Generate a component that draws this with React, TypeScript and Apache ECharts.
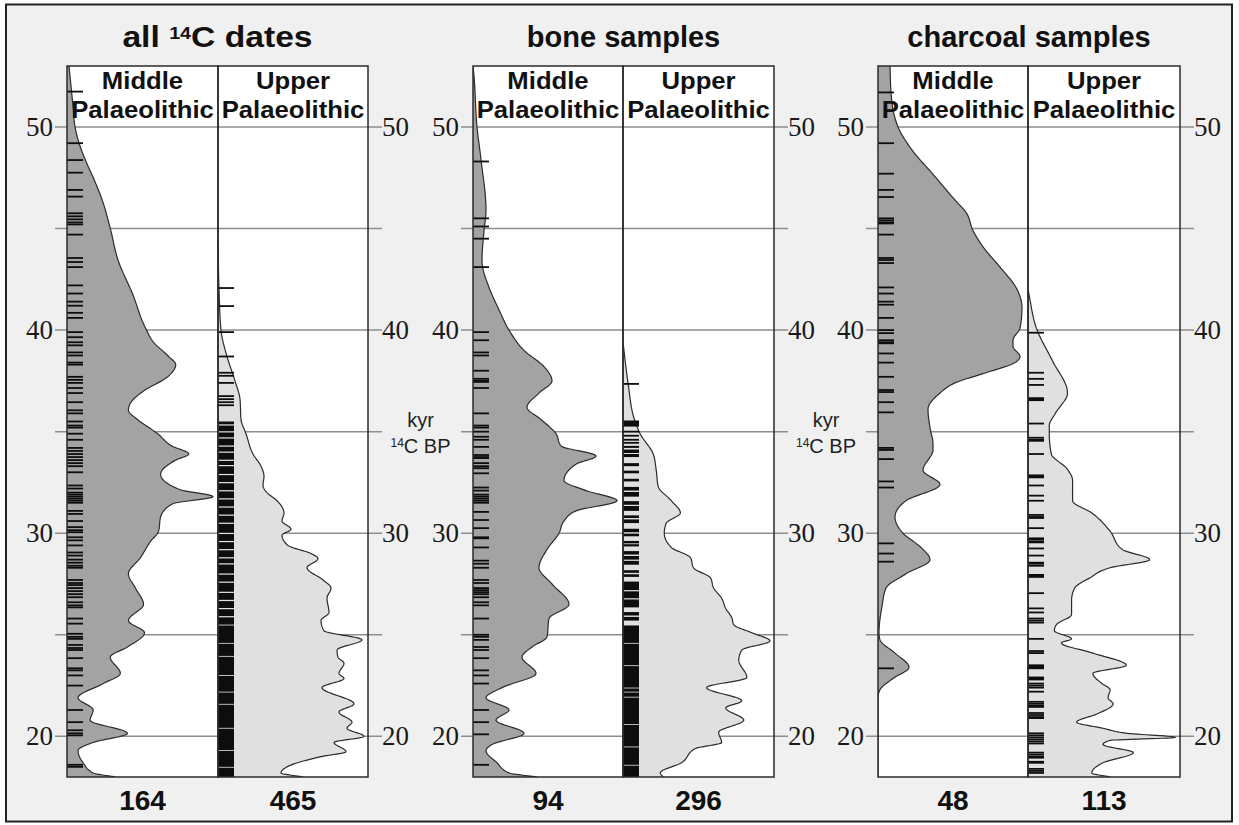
import React, { useEffect, useRef } from "react";
import * as echarts from "echarts";

// ---------- axis / scale ----------
const Y_MIN = 18;
const Y_MAX = 53;
const X_MAX = 150;
const gridLineValues = [20, 25, 30, 35, 40, 45, 50];
const axisLabelValues = [20, 30, 40, 50];

// ---------- texts ----------
const panelTitles = ["{t|all }{s|14}{t|C dates}", "{t|bone samples}", "{t|charcoal samples}"];
const titleStretch = [1.16, 1, 1];
const subHeaders = ["Middle\nPalaeolithic", "Upper\nPalaeolithic"];
const sampleCounts = [164, 465, 94, 296, 48, 113];
const unitLines = ["{n|kyr}", "{s|14}{n|C BP}"];

// ---------- density curves: [kyr 14C BP, relative density] ----------
const allMPCurve = [[53.0,2],[52.0,4],[51.0,6],[50.0,8],[49.2,12],[48.4,18],[47.4,27],[46.4,35],[45.0,43],[43.4,51],[41.8,65],[40.1,78],[39.4,86],[38.7,101],[38.3,108],[37.7,100],[37.0,76],[36.4,63],[36.05,61],[35.6,70],[34.9,90],[34.3,104],[33.9,121],[33.6,108],[32.9,93],[32.15,112],[31.8,145],[31.45,105],[30.8,93],[30.1,91],[29.6,83],[28.8,73],[28.0,61],[27.3,68],[26.5,76],[25.7,61],[25.1,77],[24.4,60],[23.9,43],[23.1,53],[22.6,36],[21.9,11],[21.3,26],[20.8,23],[20.15,60],[19.7,26],[19.3,11],[18.7,16],[18.2,26],[18.0,48]];
const allUPCurve = [[44.5,0],[42.0,1],[40.0,3],[38.7,9],[37.5,17],[36.6,22],[35.6,23],[34.9,28],[33.9,35],[33.3,43],[32.8,46],[32.35,45],[32.0,49],[31.6,59],[31.0,66],[30.6,64],[30.2,73],[29.9,64],[29.4,70],[29.0,93],[28.75,100],[28.3,89],[27.7,105],[27.3,113],[26.8,109],[26.1,111],[25.7,103],[25.2,106],[24.75,144],[24.25,119],[23.9,120],[23.6,126],[23.1,121],[22.85,126],[22.4,104],[21.6,136],[21.2,121],[20.7,134],[20.4,129],[20.0,146],[19.7,116],[19.25,128],[19.0,103],[18.5,69],[18.2,63],[18.0,85]];
const boneMPCurve = [[53.0,0],[52.5,1],[50.0,4],[48.4,8],[45.9,13],[44.9,11],[43.4,9],[42.1,16],[41.0,26],[40.0,36],[39.0,51],[38.2,71],[37.5,79],[36.9,66],[36.2,54],[35.6,68],[34.9,83],[34.3,88],[33.8,123],[33.4,103],[32.6,91],[32.1,113],[31.6,144],[31.1,103],[30.6,91],[30.0,86],[29.2,74],[28.3,66],[27.5,79],[26.5,96],[25.8,76],[24.9,74],[24.4,59],[23.9,49],[23.1,63],[22.4,29],[21.9,13],[21.3,36],[20.8,23],[20.15,51],[19.6,19],[19.3,13],[18.7,24],[18.2,36],[18.0,64]];
const boneUPCurve = [[39.4,0],[37.4,5],[35.5,12],[34.9,17],[33.9,30],[33.1,33],[32.3,35],[31.6,48],[31.0,57],[30.5,43],[30.0,41],[29.3,48],[28.8,67],[28.3,70],[27.8,87],[27.3,90],[26.8,98],[26.3,102],[25.85,108],[25.5,110],[25.1,128],[24.7,146],[24.25,118],[23.75,115],[22.9,123],[22.4,83],[21.75,118],[21.4,102],[20.8,120],[20.2,95],[19.7,98],[19.4,72],[18.7,58],[18.2,37],[18.0,40]];
const charMPCurve = [[53.0,12],[51.7,13],[50.0,20],[49.0,32],[47.5,58],[46.4,77],[45.8,88],[44.9,95],[44.1,105],[43.1,122],[42.1,138],[41.1,144],[40.1,142],[39.5,135],[39.2,135],[38.7,142],[38.4,137],[37.9,108],[37.4,77],[36.9,62],[36.1,50],[35.2,52],[34.4,55],[34.1,55],[33.1,45],[32.4,62],[31.6,28],[30.8,17],[30.0,25],[29.3,43],[28.7,52],[28.0,28],[27.3,8],[26.4,4],[25.1,1],[24.75,2],[24.1,17],[23.4,31],[22.85,15],[22.3,2],[21.9,0],[18.0,0]];
const charUPCurve = [[42.0,0],[40.0,9],[38.5,24],[36.9,39],[35.9,27],[35.3,21],[34.9,21],[33.9,23],[33.2,38],[32.6,44],[31.6,44],[31.0,63],[30.1,81],[29.2,93],[28.7,120],[28.3,81],[27.8,61],[27.3,46],[26.7,43],[26.0,43],[25.5,28],[25.2,26],[24.8,43],[24.6,33],[24.1,64],[23.5,97],[23.1,64],[22.6,73],[22.3,81],[21.9,79],[21.6,84],[21.1,68],[20.7,48],[20.4,74],[20.15,98],[19.95,145],[19.8,81],[19.6,74],[19.2,104],[18.7,74],[18.2,63],[18.0,81]];

// ---------- individual dates (rug ticks), kyr 14C BP ----------
const allMPDates = [51.74,49.2,48.37,47.75,46.9,46.57,45.75,45.6,45.45,45.3,45.2,44.7,43.55,43.35,43.1,42.2,41.8,41.4,41.2,40.85,40.6,39.9,39.65,39.4,39.25,38.9,38.75,38.4,38.3,37.7,37.55,37.4,37.15,36.9,36.45,36.05,35.9,35.5,35.3,35.2,34.9,34.6,34.2,34.05,33.9,33.75,33.6,33.45,33.3,33.0,32.35,32.2,32.0,31.9,31.8,31.7,31.6,31.5,31.1,30.95,30.6,30.3,30.15,30.05,29.8,29.65,29.4,29.05,28.9,28.7,28.55,28.4,28.3,27.7,27.55,27.45,27.3,27.15,27.0,26.85,26.6,26.45,26.35,25.8,25.55,25.05,24.9,24.8,24.5,24.35,24.25,23.85,23.35,23.25,23.0,22.5,21.3,20.7,20.3,20.15,20.05,18.6,18.5];
const allUPDates = [42.07,41.18,39.9,38.7,37.9,37.75,37.4,36.75,36.6,36.45,36.3];
// runs of overlapping dates that print as solid black: [from, to]
const allUPBands = [[35.5,35.36],[35.3,35.02],[34.96,34.72],[34.66,34.32],[34.26,34.02],[33.96,33.62],[33.56,33.36],[33.3,32.92],[32.86,32.52],[32.46,32.12],[32.06,31.72],[31.66,31.32],[31.26,30.92],[30.86,30.52],[30.46,30.02],[29.96,29.62],[29.56,29.22],[29.16,28.82],[28.76,28.52],[28.46,28.02],[27.96,27.62],[27.56,27.12],[27.06,26.72],[26.66,26.32],[26.26,25.92],[25.86,25.5],[25.46,24.6],[24.56,23.96],[23.92,23.02],[22.98,22.2],[22.16,21.6],[21.56,20.42],[20.38,19.32],[19.28,18.5],[18.46,18.0]];
const boneMPDates = [48.3,45.5,45.1,44.5,43.1,39.9,39.5,38.9,38.75,38.0,37.6,37.5,37.45,37.15,35.9,35.3,35.2,35.0,34.75,34.6,34.25,33.85,33.75,33.7,33.45,33.3,33.2,32.95,32.25,32.1,31.9,31.8,31.7,31.6,31.5,31.05,30.65,30.25,29.8,29.75,29.3,28.65,28.5,28.3,27.7,27.55,27.3,27.2,27.1,27.0,26.85,26.6,26.45,25.8,25.0,24.9,24.75,24.4,24.25,23.85,23.25,23.0,22.6,21.3,20.7,20.1,18.6];
const boneUPDates = [37.35,35.0,34.8,34.6,34.45];
const boneUPBands = [[35.55,35.25],[34.3,34.2],[34.12,33.95],[33.9,33.75],[33.45,33.3],[33.08,32.95],[32.68,32.55],[32.28,32.1],[32.03,31.8],[31.58,31.4],[31.34,31.1],[30.88,30.75],[30.68,30.5],[30.22,30.05],[29.98,29.85],[29.62,29.5],[29.46,29.35],[29.12,28.95],[28.88,28.7],[28.64,28.45],[28.18,28.05],[27.98,27.85],[27.62,27.2],[27.14,26.8],[26.74,26.35],[26.12,25.95],[25.88,25.7],[25.46,24.6],[24.56,23.5],[23.46,22.4],[22.36,22.2],[22.16,21.95],[21.91,20.6],[20.56,19.5],[19.46,18.6],[18.56,18.0]];
const charMPDates = [51.7,49.2,47.7,46.9,46.55,45.5,45.4,45.3,45.25,44.7,43.55,43.45,43.3,42.1,41.8,41.4,41.25,40.6,40.0,39.85,39.5,39.4,39.35,38.85,38.4,37.7,37.05,36.95,36.45,35.95,34.2,34.1,33.65,32.55,32.25,29.5,29.0,28.6,23.35];
const charUPDates = [39.87,37.9,37.6,37.3,36.65,36.6,36.55,35.4,34.7,34.6,34.55,33.9,32.85,32.8,32.75,32.35,31.85,31.6,30.9,30.8,30.75,30.25,29.75,29.7,29.6,29.55,29.25,28.9,28.55,28.5,28.4,27.95,27.9,27.85,27.05,26.3,26.1,25.8,25.7,25.6,24.8,24.2,24.1,23.5,23.45,23.4,23.35,22.9,22.85,22.8,22.6,22.5,22.4,22.2,21.7,21.6,21.5,21.45,21.15,21.05,20.95,20.9,20.15,20.05,19.95,19.85,19.75,19.65,19.2,19.1,19.0,18.95,18.75,18.7,18.4,18.3,18.2];

// ---------- layout & style ----------
const PANELS = [
  { left: 67, mid: 218, right: 368 },
  { left: 473, mid: 623, right: 774 },
  { left: 878, mid: 1028, right: 1180 },
];
const TOP = 66;
const BOTTOM = 777;
const MP_FILL = "#a3a3a3";
const UP_FILL = "#e0e0e0";
const LINE_COLOR = "#2b2b2b";
const GRID_COLOR = "#8e8e8e";
const SANS = "Liberation Sans, Arial, sans-serif";
const SERIF = "Liberation Serif, Times New Roman, serif";
const RUG_LEN = 16;

const subpanels = [
  { curve: allMPCurve, dates: allMPDates, bands: [] as number[][], fill: MP_FILL, mp: true },
  { curve: allUPCurve, dates: allUPDates, bands: allUPBands, fill: UP_FILL, mp: false },
  { curve: boneMPCurve, dates: boneMPDates, bands: [] as number[][], fill: MP_FILL, mp: true },
  { curve: boneUPCurve, dates: boneUPDates, bands: boneUPBands, fill: UP_FILL, mp: false },
  { curve: charMPCurve, dates: charMPDates, bands: [] as number[][], fill: MP_FILL, mp: true },
  { curve: charUPCurve, dates: charUPDates, bands: [] as number[][], fill: UP_FILL, mp: false },
];

// monotone cubic (in kyr) rendering of the density outline
function smoothOutline(pts: number[][]): number[][] {
  const p = pts.slice().sort((a, b) => a[0] - b[0]);
  const n = p.length;
  const h: number[] = [];
  const d: number[] = [];
  for (let i = 0; i < n - 1; i++) {
    h.push(p[i + 1][0] - p[i][0]);
    d.push((p[i + 1][1] - p[i][1]) / h[i]);
  }
  const m = new Array(n).fill(0);
  m[0] = d[0];
  m[n - 1] = d[n - 2];
  for (let i = 1; i < n - 1; i++) {
    if (d[i - 1] * d[i] <= 0) m[i] = 0;
    else {
      const q = (d[i - 1] * h[i] + d[i] * h[i - 1]) / (h[i - 1] + h[i]);
      m[i] = 2 * Math.sign(d[i]) * Math.min(Math.abs(d[i - 1]), Math.abs(d[i]), 0.5 * Math.abs(q));
    }
  }
  const out: number[][] = [];
  const steps = 14;
  for (let i = 0; i < n - 1; i++) {
    for (let s = 0; s < steps; s++) {
      const t = s / steps;
      const t2 = t * t, t3 = t2 * t;
      const y = p[i][0] + t * h[i];
      const x =
        (2 * t3 - 3 * t2 + 1) * p[i][1] +
        (t3 - 2 * t2 + t) * h[i] * m[i] +
        (-2 * t3 + 3 * t2) * p[i + 1][1] +
        (t3 - t2) * h[i] * m[i + 1];
      out.push([Math.max(0, x), y]);
    }
  }
  out.push([p[n - 1][1], p[n - 1][0]]);
  return out;
}

function buildOption(): any {
  const grids: any[] = [];
  const xAxes: any[] = [];
  const yAxes: any[] = [];
  const series: any[] = [];

  subpanels.forEach((sp, i) => {
    const pan = PANELS[Math.floor(i / 2)];
    const left = sp.mp ? pan.left : pan.mid;
    const width = sp.mp ? pan.mid - pan.left : pan.right - pan.mid;
    grids.push({
      left,
      top: TOP,
      width,
      height: BOTTOM - TOP,
      show: true,
      backgroundColor: "#ffffff",
      borderWidth: 0,
    });
    xAxes.push({ type: "value", gridIndex: i, min: 0, max: X_MAX, show: false });
    yAxes.push({
      type: "value",
      gridIndex: i,
      min: Y_MIN,
      max: Y_MAX,
      position: sp.mp ? "left" : "right",
      axisLine: { show: false },
      axisTick: { show: false },
      splitLine: { show: false },
      axisLabel: {
        customValues: axisLabelValues,
        formatter: (v: number) => (axisLabelValues.indexOf(v) >= 0 ? String(v) : ""),
        fontFamily: SERIF,
        fontSize: 27,
        color: "#1a1a1a",
        margin: 14,
      },
    });

    // horizontal grid lines with outer ticks
    series.push({
      type: "custom",
      xAxisIndex: i,
      yAxisIndex: i,
      z: 1,
      silent: true,
      data: gridLineValues.map((v) => [0, v]),
      encode: { x: 0, y: 1 },
      renderItem: (params: any, api: any) => {
        const v = api.value(1);
        const a = api.coord([0, v]);
        const b = api.coord([X_MAX, v]);
        const x1 = sp.mp ? a[0] - 12 : a[0];
        const x2 = sp.mp ? b[0] : b[0] + 14;
        return {
          type: "line",
          shape: { x1, y1: a[1], x2, y2: a[1] },
          style: { stroke: GRID_COLOR, lineWidth: 1.5 },
        };
      },
    });

    // density curve
    const curve = sp.curve;
    series.push({
      type: "custom",
      xAxisIndex: i,
      yAxisIndex: i,
      z: 2,
      clip: true,
      silent: true,
      data: curve.map((c) => [c[1], c[0]]),
      encode: { x: 0, y: 1 },
      renderItem: (params: any, api: any) => {
        if (params.dataIndex !== 0) return null;
        const samples = smoothOutline(curve);
        const line = samples.map((s) => api.coord([s[0], s[1]]));
        const first = samples[0];
        const last = samples[samples.length - 1];
        const poly = [api.coord([0, first[1]])].concat(line, [api.coord([0, last[1]])]);
        return {
          type: "group",
          children: [
            { type: "polygon", shape: { points: poly }, style: { fill: sp.fill, stroke: "none" } },
            { type: "polyline", shape: { points: line }, style: { fill: "none", stroke: LINE_COLOR, lineWidth: 1.2 } },
          ],
        };
      },
    });

    // rug ticks
    series.push({
      type: "custom",
      xAxisIndex: i,
      yAxisIndex: i,
      z: 3,
      silent: true,
      data: sp.dates.map((dte) => [0, dte]),
      encode: { x: 0, y: 1 },
      renderItem: (params: any, api: any) => {
        const a = api.coord([0, api.value(1)]);
        return {
          type: "line",
          shape: { x1: a[0], y1: a[1], x2: a[0] + RUG_LEN, y2: a[1] },
          style: { stroke: "#0d0d0d", lineWidth: 1.8 },
        };
      },
    });

    if (sp.bands.length) {
      series.push({
        type: "custom",
        xAxisIndex: i,
        yAxisIndex: i,
        z: 3,
        silent: true,
        data: sp.bands.map((b) => [0, b[0], b[1]]),
        encode: { x: 0, y: [1, 2] },
        renderItem: (params: any, api: any) => {
          const a = api.coord([0, api.value(1)]);
          const b = api.coord([0, api.value(2)]);
          return {
            type: "rect",
            shape: { x: a[0], y: a[1], width: RUG_LEN, height: b[1] - a[1] },
            style: { fill: "#0d0d0d" },
          };
        },
      });
    }

    // panel border
    series.push({
      type: "custom",
      xAxisIndex: i,
      yAxisIndex: i,
      z: 5,
      silent: true,
      data: [[0, Y_MAX]],
      encode: { x: 0, y: 1 },
      renderItem: (params: any, api: any) => {
        const a = api.coord([0, Y_MAX]);
        const b = api.coord([X_MAX, Y_MIN]);
        return {
          type: "rect",
          shape: { x: a[0], y: a[1], width: b[0] - a[0], height: b[1] - a[1] },
          style: { fill: "none", stroke: LINE_COLOR, lineWidth: 1.5 },
        };
      },
    });
  });

  const graphic: any[] = [
    {
      type: "rect",
      z: -10,
      silent: true,
      shape: { x: 6, y: 4.5, width: 1226, height: 817 },
      style: { fill: "#f0f0f0", stroke: "#222", lineWidth: 2 },
    },
  ];

  PANELS.forEach((pan, k) => {
    graphic.push({
      type: "text",
      z: 50,
      silent: true,
      x: (pan.left + pan.right) / 2,
      y: 37,
      scaleX: titleStretch[k],
      style: {
        text: panelTitles[k],
        x: 0,
        y: 0,
        align: "center",
        verticalAlign: "middle",
        rich: {
          t: { fontFamily: SANS, fontWeight: "bold", fontSize: 29, lineHeight: 26, fill: "#111" },
          s: { fontFamily: SANS, fontWeight: "bold", fontSize: 17, lineHeight: 17, verticalAlign: "top", fill: "#111" },
        },
      },
    });
    [0, 1].forEach((j) => {
      const cx = j === 0 ? (pan.left + pan.mid) / 2 : (pan.mid + pan.right) / 2;
      graphic.push({
        type: "text",
        z: 50,
        silent: true,
        x: cx,
        y: 95.5,
        scaleX: 1.07,
        style: {
          text: subHeaders[j],
          x: 0,
          y: 0,
          align: "center",
          verticalAlign: "middle",
          fontFamily: SANS,
          fontWeight: "bold",
          fontSize: 24,
          lineHeight: 29,
          fill: "#111",
        },
      });
      graphic.push({
        type: "text",
        z: 50,
        silent: true,
        style: {
          text: String(sampleCounts[k * 2 + j]),
          x: cx,
          y: 800,
          align: "center",
          verticalAlign: "middle",
          fontFamily: SANS,
          fontWeight: "bold",
          fontSize: 28,
          fill: "#111",
        },
      });
    });
    if (k < PANELS.length - 1) {
      unitLines.forEach((ln, li) => {
        graphic.push({
          type: "text",
          z: 50,
          silent: true,
          style: {
            text: ln,
            x: (pan.right + PANELS[k + 1].left) / 2,
            y: 420 + li * 26,
            align: "center",
            verticalAlign: "middle",
            rich: {
              n: { fontFamily: SANS, fontSize: 20, lineHeight: 18, fill: "#222" },
              s: { fontFamily: SANS, fontSize: 12, lineHeight: 12, verticalAlign: "top", fill: "#222" },
            },
          },
        });
      });
    }
  });

  return {
    animation: false,
    backgroundColor: "#ffffff",
    grid: grids,
    xAxis: xAxes,
    yAxis: yAxes,
    series,
    graphic,
  };
}

export default function App() {
  const ref = useRef<HTMLDivElement>(null);
  useEffect(() => {
    if (!ref.current) return;
    const chart = echarts.init(ref.current, undefined, { renderer: "svg" });
    chart.setOption(buildOption());
    return () => chart.dispose();
  }, []);
  return (
    <div
      ref={ref}
      style={{ position: "absolute", left: 0, top: 0, width: 1239, height: 825 }}
    />
  );
}
